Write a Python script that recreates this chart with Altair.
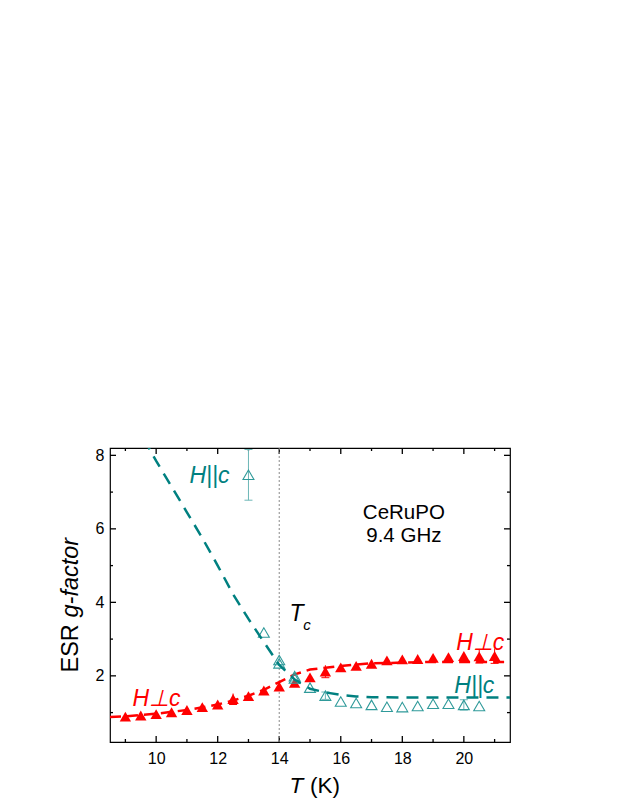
import altair as alt
import pandas as pd

# ---- data ----
perp_T = [9.0, 9.5, 10.0, 10.5, 11.0, 11.5, 12.0, 12.5, 13.0, 13.5, 14.0, 14.5, 15.0,
          15.5, 16.0, 16.5, 17.0, 17.5, 18.0, 18.5, 19.0, 19.5, 20.0, 20.5, 21.0]
perp_g = [0.89, 0.92, 0.96, 1.01, 1.07, 1.15, 1.22, 1.37, 1.45, 1.60, 1.71, 1.81, 1.96,
          2.12, 2.23, 2.27, 2.33, 2.42, 2.45, 2.46, 2.49, 2.51, 2.54, 2.53, 2.54]
par_T = [13.0, 13.5, 14.0, 14.0, 14.5, 14.5, 15.0, 15.5, 16.0, 16.5, 17.0, 17.5, 18.0,
         18.5, 19.0, 19.5, 20.0, 20.5]
par_g = [7.47, 3.18, 2.43, 2.34, 1.99, 1.93, 1.68, 1.46, 1.30, 1.26, 1.21, 1.16, 1.15,
         1.18, 1.24, 1.24, 1.21, 1.18]

perp_err_T = [12.5, 15.5, 20.5, 21.0]
perp_err_g = [1.37, 2.12, 2.53, 2.54]
perp_err = [0.15, 0.17, 0.18, 0.20]
par_err_T = [13.0, 15.5, 20.0]
par_err_g = [7.47, 1.46, 1.21]
par_err = [0.69, 0.10, 0.14]

perp_fit_T = [8.5, 9.0, 10.0, 11.0, 12.0, 12.5, 13.0, 13.5, 14.0, 14.5, 15.0, 15.5,
              16.0, 16.5, 17.0, 18.0, 19.0, 20.0, 21.0, 21.5]
perp_fit_g = [0.88, 0.90, 0.97, 1.07, 1.22, 1.33, 1.46, 1.62, 1.83, 2.04, 2.17, 2.22,
              2.27, 2.31, 2.34, 2.36, 2.38, 2.38, 2.38, 2.38]
par_fit_T = [9.6, 10.0, 10.5, 11.0, 11.5, 12.0, 12.5, 13.0, 13.5, 14.0, 14.5, 15.0,
             15.5, 16.0, 16.5, 17.0, 18.0, 19.0, 20.0, 21.0, 21.5]
par_fit_g = [8.45, 7.85, 7.15, 6.45, 5.75, 5.0, 4.22, 3.55, 2.92, 2.30, 1.90, 1.65,
             1.55, 1.48, 1.44, 1.42, 1.41, 1.41, 1.41, 1.41, 1.41]

tc_T = [14.0]

x_domain = [8.5, 21.5]
y_domain = [0.2, 8.2]
x_major = [10, 12, 14, 16, 18, 20]
x_minor = [9, 11, 13, 15, 17, 19, 21]
y_major = [2, 4, 6, 8]
y_minor = [1, 3, 5, 7]

labels_txt = ["H||c", "H\u22a5c", "H\u22a5c", "H||c"]
labels_T = [11.08, 9.23, 19.75, 19.69]
labels_g = [7.25, 1.18, 2.71, 1.54]
labels_col = ["teal", "red", "red", "teal"]

RED = "#FF0000"
TEAL = "#008080"
TEAL_PT = "#2F9A9A"
TEAL_ERR = "#6CB6B6"
FONT = "Liberation Sans"

W, H = 400, 294
MAJ, MIN = 6, 3  # tick lengths in pixels

xs = alt.Scale(domain=x_domain, nice=False, zero=False)
ys = alt.Scale(domain=y_domain, nice=False, zero=False)

ax_x_main = alt.Axis(orient="bottom", values=x_major, ticks=False, tickSize=0,
                     domain=False, grid=False, labelPadding=8, labelFontSize=16,
                     labelColor="black", labelFont=FONT,
                     title="T", titleFont=FONT, titleFontStyle="italic",
                     titleFontSize=22.5, titleFontWeight="normal", titleColor="black",
                     titleAlign="left", titleBaseline="alphabetic", titleX=179, titleY=50)
ax_x_unit = alt.Axis(orient="bottom", values=x_major, labels=False, ticks=False,
                     domain=False, grid=False,
                     title="(K)", titleFont=FONT, titleFontStyle="normal",
                     titleFontSize=22.5, titleFontWeight="normal", titleColor="black",
                     titleAlign="left", titleBaseline="alphabetic", titleX=199.5, titleY=50)
ax_y_main = alt.Axis(orient="left", values=y_major, ticks=False, tickSize=0,
                     domain=False, grid=False, labelPadding=6, labelFontSize=16,
                     labelColor="black", labelFont=FONT,
                     title="ESR", titleFont=FONT, titleFontStyle="normal",
                     titleFontSize=23.5, titleFontWeight="normal", titleColor="black",
                     titleAngle=270, titleAlign="left", titleBaseline="alphabetic",
                     titleX=-33, titleY=224)
ax_y_gf = alt.Axis(orient="left", values=y_major, labels=False, ticks=False,
                   domain=False, grid=False,
                   title="g-factor", titleFont=FONT, titleFontStyle="italic",
                   titleFontSize=23.5, titleFontWeight="normal", titleColor="black",
                   titleAngle=270, titleAlign="left", titleBaseline="alphabetic",
                   titleX=-33, titleY=169)

perp_df = pd.DataFrame({"T": perp_T, "g": perp_g})
par_df = pd.DataFrame({"T": par_T, "g": par_g})
perp_fit_df = pd.DataFrame({"T": perp_fit_T, "g": perp_fit_g})
par_fit_df = pd.DataFrame({"T": par_fit_T, "g": par_fit_g})
perp_err_df = pd.DataFrame({"T": perp_err_T, "g": perp_err_g, "e": perp_err})
par_err_df = pd.DataFrame({"T": par_err_T, "g": par_err_g, "e": par_err})
for d in (perp_err_df, par_err_df):
    d["lo"] = d["g"] - d["e"]
    d["hi"] = d["g"] + d["e"]
tc_df = pd.DataFrame({"T": tc_T})
lab_df = pd.DataFrame({"T": labels_T, "g": labels_g, "txt": labels_txt, "col": labels_col})

# inward ticks on all four edges, as short rules reaching into the plot
py_unit = H / (y_domain[1] - y_domain[0])   # pixels per g unit
px_unit = W / (x_domain[1] - x_domain[0])   # pixels per K
xt_rows = []
for t in x_major + x_minor:
    ln = (MAJ if t in x_major else MIN) / py_unit
    xt_rows.append({"T": t, "g1": y_domain[0], "g2": y_domain[0] + ln})
    xt_rows.append({"T": t, "g1": y_domain[1], "g2": y_domain[1] - ln})
yt_rows = []
for v in y_major + y_minor:
    ln = (MAJ if v in y_major else MIN) / px_unit
    yt_rows.append({"g": v, "T1": x_domain[0], "T2": x_domain[0] + ln})
    yt_rows.append({"g": v, "T1": x_domain[1], "T2": x_domain[1] - ln})
xt_df = pd.DataFrame(xt_rows)
yt_df = pd.DataFrame(yt_rows)


def X(axis=None, field="T"):
    return alt.X(f"{field}:Q", scale=xs, axis=axis)


def Y(field="g", axis=None):
    return alt.Y(f"{field}:Q", scale=ys, axis=axis)


x_ticks = alt.Chart(xt_df).mark_rule(color="black", strokeWidth=1.3).encode(
    x=X(), y=Y("g1"), y2="g2:Q")
y_ticks = alt.Chart(yt_df).mark_rule(color="black", strokeWidth=1.3).encode(
    x=X(field="T1"), x2="T2:Q", y=Y())

rule = alt.Chart(tc_df).mark_rule(color="#8a8a8a", strokeDash=[2, 2], strokeWidth=1).encode(
    x=X())

red_fit = alt.Chart(perp_fit_df).mark_line(color=RED, strokeDash=[11, 6], strokeWidth=2.5,
                                           clip=True).encode(x=X(), y=Y())

teal_fit = alt.Chart(par_fit_df).mark_line(color=TEAL, strokeDash=[12, 8], strokeWidth=2.5,
                                           clip=True).encode(x=X(), y=Y())

red_err = alt.Chart(perp_err_df).mark_rule(color=RED, strokeWidth=1, clip=True).encode(
    x=X(), y=Y("lo"), y2="hi:Q")
red_cap = alt.Chart(perp_err_df).mark_tick(color=RED, orient="horizontal", size=8,
                                           thickness=1, opacity=1, clip=True).encode(
    x=X(), y=Y("lo"))
teal_err = alt.Chart(par_err_df).mark_rule(color=TEAL_ERR, strokeWidth=1, clip=True).encode(
    x=X(), y=Y("lo"), y2="hi:Q")
teal_cap_lo = alt.Chart(par_err_df).mark_tick(color=TEAL_ERR, orient="horizontal", size=8,
                                              thickness=1, opacity=1, clip=True).encode(
    x=X(), y=Y("lo"))
teal_cap_hi = alt.Chart(par_err_df).mark_tick(color=TEAL_ERR, orient="horizontal", size=8,
                                              thickness=1, opacity=1, clip=True).encode(
    x=X(), y=Y("hi"))

red_pts = alt.Chart(perp_df).mark_point(shape="triangle-up", filled=True, size=130,
                                        color=RED, opacity=1).encode(
    x=X(ax_x_main), y=Y(axis=ax_y_main))

teal_pts = alt.Chart(par_df).mark_point(shape="triangle-up", filled=False, size=120,
                                        stroke=TEAL_PT, strokeWidth=1.1, opacity=1).encode(
    x=X(ax_x_unit), y=Y(axis=ax_y_gf))

labels = alt.Chart(lab_df).mark_text(font=FONT, fontSize=23, fontStyle="italic",
                                     align="left", baseline="alphabetic").encode(
    x=X(), y=Y(), text="txt:N",
    color=alt.Color("col:N", scale=alt.Scale(domain=["teal", "red"], range=[TEAL, RED]),
                    legend=None))

tc_main = alt.Chart(pd.DataFrame({"T": [14.33], "g": [3.48], "txt": ["T"]})).mark_text(
    font=FONT, fontSize=23, fontStyle="italic", align="left", baseline="alphabetic",
    color="black").encode(x=X(), y=Y(), text="txt:N")
tc_sub = alt.Chart(pd.DataFrame({"T": [14.78], "g": [3.25], "txt": ["c"]})).mark_text(
    font=FONT, fontSize=15, fontStyle="italic", align="left", baseline="alphabetic",
    color="black").encode(x=X(), y=Y(), text="txt:N")

sample = alt.Chart(pd.DataFrame({"T": [18.05, 18.05], "g": [6.27, 5.65],
                                 "txt": ["CeRuPO", "9.4 GHz"]})).mark_text(
    font=FONT, fontSize=20.5, align="center", baseline="alphabetic",
    color="black").encode(x=X(), y=Y(), text="txt:N")

chart = alt.layer(
    x_ticks, y_ticks, rule, red_fit, red_err, red_cap, red_pts, teal_err, teal_cap_lo,
    teal_cap_hi, teal_pts, teal_fit, labels, tc_main, tc_sub, sample
).resolve_axis(x="independent", y="independent").properties(
    width=W, height=H,
    autosize=alt.AutoSizeParams(type="none"),
    padding={"left": 102, "top": 440, "right": 60, "bottom": 62},
    background="white",
).configure_view(stroke="black", strokeWidth=1.2)

chart.save("out.html", embed_options={"renderer": "svg", "actions": False})
